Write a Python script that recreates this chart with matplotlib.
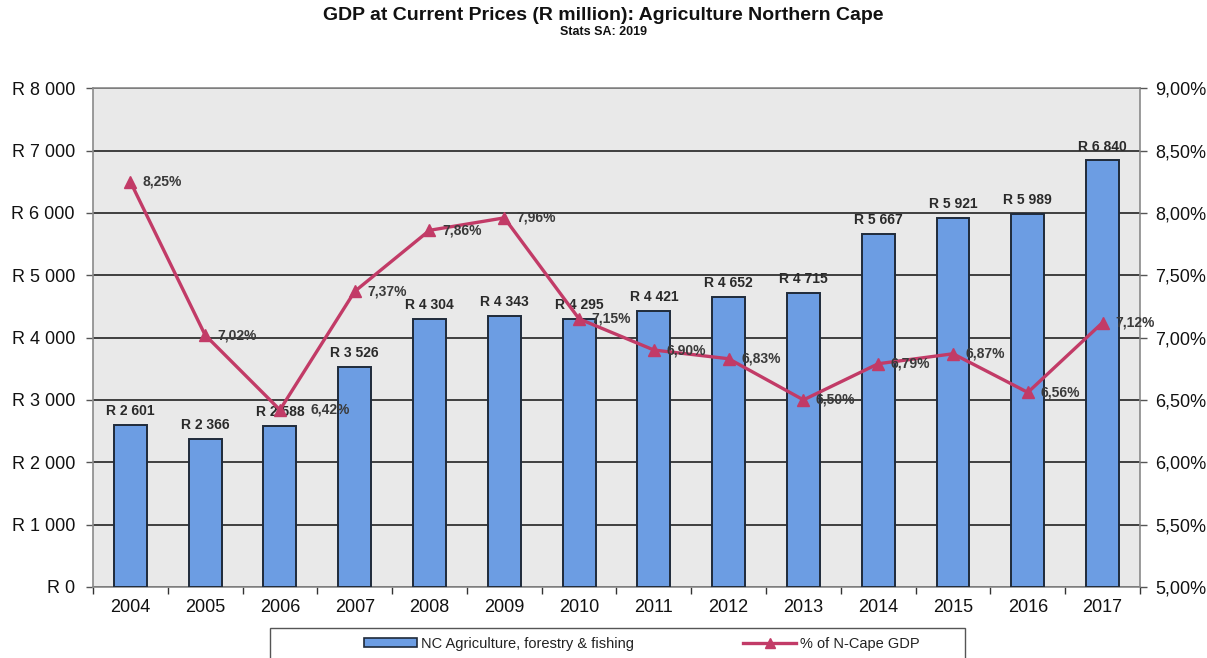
import matplotlib
matplotlib.use("Agg")
import matplotlib.pyplot as plt
from matplotlib.lines import Line2D
from matplotlib.patches import Patch, Rectangle

plt.rcParams['font.family'] = ['Liberation Sans', 'DejaVu Sans']

years = ["2004", "2005", "2006", "2007", "2008", "2009", "2010",
         "2011", "2012", "2013", "2014", "2015", "2016", "2017"]
gdp_agri = [2601, 2366, 2588, 3526, 4304, 4343, 4295,
            4421, 4652, 4715, 5667, 5921, 5989, 6840]
share_pct = [8.25, 7.02, 6.42, 7.37, 7.86, 7.96, 7.15,
             6.90, 6.83, 6.50, 6.79, 6.87, 6.56, 7.12]
left_ticks = [0, 1000, 2000, 3000, 4000, 5000, 6000, 7000, 8000]
right_ticks = [5.0, 5.5, 6.0, 6.5, 7.0, 7.5, 8.0, 8.5, 9.0]


def rand(v):
    s = f"{int(v):,}".replace(",", " ")
    return f"R {s}"


def pct(v):
    return f"{v:.2f}%".replace(".", ",")


fig = plt.figure(figsize=(12.07, 6.58), dpi=100)
fig.patch.set_facecolor("white")
ax = fig.add_axes([0.077, 0.108, 0.8675, 0.758])
ax.set_facecolor("#e9e9e9")

x = list(range(len(years)))
ax.bar(x, gdp_agri, width=0.44, color="#6c9de3", edgecolor="#1f2a3a",
       linewidth=1.4, zorder=3)
ax.set_xlim(-0.5, len(years) - 0.5)
ax.set_ylim(0, 8000)
ax.set_yticks(left_ticks)
ax.set_yticklabels([rand(v) for v in left_ticks])
ax.set_xticks(x)
ax.set_xticklabels(years)
ax.set_xticks([i - 0.5 for i in range(len(years) + 1)], minor=True)
ax.tick_params(axis="x", which="major", length=0, pad=9, labelsize=13)
ax.tick_params(axis="x", which="minor", length=5, width=1, color="#333333")
ax.tick_params(axis="y", length=5, width=1, pad=8, labelsize=13, color="#555555")
for lbl in ax.get_xticklabels() + ax.get_yticklabels():
    lbl.set_color("#111111")
ax.grid(axis="y", color="#222222", linewidth=1.2, zorder=1)
ax.set_axisbelow(True)
for side in ["top", "right", "left", "bottom"]:
    ax.spines[side].set_color("#8a8a8a")
    ax.spines[side].set_linewidth(1.2)

for xi, v in zip(x, gdp_agri):
    ax.annotate(rand(v), (xi, v), xytext=(0, 5), textcoords="offset points",
                ha="center", va="bottom", fontsize=10, fontweight="bold",
                color="#2a2a2a", zorder=5)

ax2 = ax.twinx()
ax2.set_ylim(5.0, 9.0)
ax2.set_yticks(right_ticks)
ax2.set_yticklabels([pct(v) for v in right_ticks])
ax2.tick_params(axis="y", length=5, width=1, pad=6, labelsize=13, color="#555555")
for lbl in ax2.get_yticklabels():
    lbl.set_color("#111111")
for side in ["top", "right", "left", "bottom"]:
    ax2.spines[side].set_visible(False)

line_color = "#c23b67"
ax2.plot(x, share_pct, color=line_color, linewidth=2.4, marker="^",
         markersize=8, markerfacecolor=line_color, markeredgecolor=line_color,
         zorder=4)
# the 2006 point sits right on its bar label, so push its text further right
pct_offsets = {2: (22, 0)}
for xi, v in zip(x, share_pct):
    ax2.annotate(pct(v), (xi, v), xytext=pct_offsets.get(xi, (9, 0)),
                 textcoords="offset points", ha="left", va="center",
                 fontsize=10, fontweight="bold", color="#3a3a3a", zorder=6)

fig.text(0.5, 0.976, "GDP at Current Prices (R million): Agriculture Northern Cape",
         ha="center", va="center", fontsize=14, fontweight="bold", color="#111111")
fig.text(0.5, 0.951, "Stats SA: 2019", ha="center", va="center",
         fontsize=9, fontweight="bold", color="#111111")

# legend frame spanning the lower band
fig.patches.append(Rectangle((270 / 1207, -0.01), (965 - 270) / 1207, 0.056,
                             transform=fig.transFigure, facecolor="white",
                             edgecolor="#555555", linewidth=1.0, zorder=1))
handles = [
    Patch(facecolor="#6c9de3", edgecolor="#1f2a3a", linewidth=1.2,
          label="NC Agriculture, forestry & fishing"),
    Line2D([0], [0], color=line_color, linewidth=2.4, marker="^", markersize=7,
           label="% of N-Cape GDP"),
]
leg = fig.legend(handles=handles, loc="center", bbox_to_anchor=(0.532, 0.022),
                 ncol=2, frameon=False, fontsize=10.5, handlelength=3.6,
                 handleheight=0.5, handletextpad=0.3, columnspacing=7.5)
for t in leg.get_texts():
    t.set_color("#222222")

fig.savefig("out.png", dpi=100)
